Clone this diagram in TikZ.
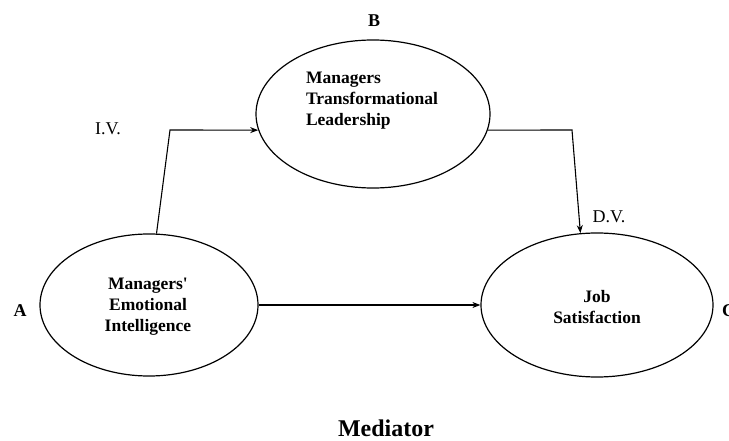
\documentclass[tikz,border=0pt]{standalone}
\usepackage{fontspec}
\setmainfont{Liberation Serif}
\newfontfamily\plainq{Liberation Serif}
\usetikzlibrary{shapes.geometric,arrows.meta}
\begin{document}
\begin{tikzpicture}[x=1pt,y=-1pt,
  oval/.style={draw, ellipse, line width=1.2pt, inner sep=0pt},
  intext/.style={font=\fontsize{17.5}{21}\selectfont\bfseries, inner sep=0pt},
  letter/.style={font=\fontsize{18}{21}\selectfont\bfseries, inner sep=0pt},
  varlab/.style={font=\fontsize{18}{21}\selectfont, inner sep=0pt},
  conn/.style={line width=1.1pt, -{Stealth[length=8pt,width=6pt]}}]
\useasboundingbox (0,0) rectangle (729,441);
\fill[white] (0,0) rectangle (729,441);
% ellipses
\node[oval, minimum width=234pt, minimum height=148pt] (B) at (373,114) {};
\node[oval, minimum width=218pt, minimum height=142pt] (A) at (149,305) {};
\node[oval, minimum width=232pt, minimum height=144pt] (C) at (597,305) {};
% texts in ellipses
\node[intext, align=left] (Btext) at (372,101) {Managers\\Transformational\\Leadership};
\node[intext, align=center] (Atext) at (148,307) {Managers{\plainq\bfseries'}\\Emotional\\Intelligence};
\node[intext, align=center] (Ctext) at (597,307) {Job\\Satisfaction};
% letters
\node[letter] (Blab) at (374,21) {B};
\node[letter] (Alab) at (20,311) {A};
\node[letter, anchor=west] (Clab) at (722,311) {C};
% variable labels
\node[varlab] (iv) at (108,129) {I.V.};
\node[varlab] (dv) at (609,217) {D.V.};
% caption
\node[font=\fontsize{24}{28}\selectfont\bfseries, anchor=base, inner sep=0pt] (cap) at (386,436) {Mediator};
% connectors
\coordinate (ib) at (170,130);
\coordinate (bc) at (572,130);
\draw[conn] (A.84) -- (ib) -- (B.188);
\draw[conn] (B.-8) -- (bc) -- (C.103);
\draw[conn] (A.east) -- (C.west);
\end{tikzpicture}
\end{document}
